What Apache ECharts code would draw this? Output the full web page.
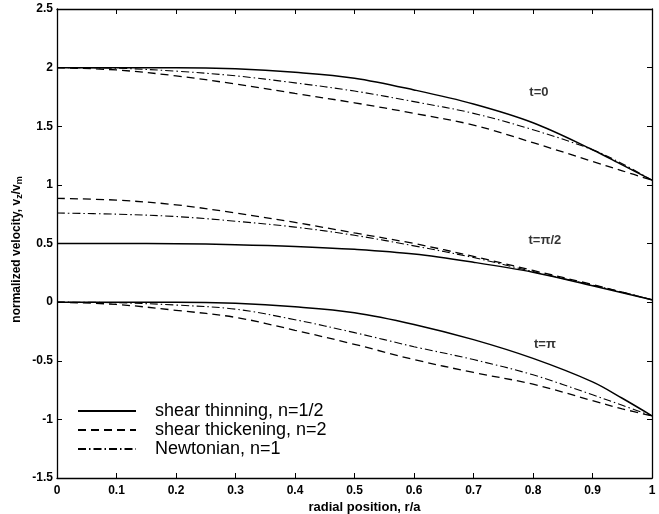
<!DOCTYPE html>
<html>
<head>
<meta charset="utf-8">
<script src="https://cdn.jsdelivr.net/npm/echarts@6/dist/echarts.min.js"></script>
<style>
html,body{margin:0;padding:0;background:#fff;}
#chart{width:659px;height:514px;}
</style>
</head>
<body>
<div id="chart"></div>
<script>
// radial positions r/a
var radialPos = [0, 0.1, 0.2, 0.3, 0.4, 0.5, 0.6, 0.7, 0.8, 0.9, 0.95, 1.0];

// t = 0
var thin_t0  = [2.0, 2.0, 2.0, 1.99, 1.96, 1.91, 1.81, 1.69, 1.53, 1.30, 1.17, 1.04];
var thick_t0 = [2.0, 1.98, 1.93, 1.86, 1.78, 1.70, 1.61, 1.51, 1.36, 1.20, 1.12, 1.04];
var newt_t0  = [2.0, 1.995, 1.97, 1.93, 1.87, 1.80, 1.71, 1.61, 1.47, 1.30, 1.18, 1.04];

// t = pi/2
var thin_t1  = [0.5, 0.5, 0.498, 0.49, 0.475, 0.45, 0.41, 0.34, 0.255, 0.14, 0.08, 0.02];
var thick_t1 = [0.885, 0.87, 0.83, 0.76, 0.68, 0.59, 0.50, 0.39, 0.27, 0.15, 0.085, 0.02];
var newt_t1  = [0.76, 0.75, 0.73, 0.69, 0.64, 0.57, 0.48, 0.38, 0.26, 0.145, 0.085, 0.02];

// t = pi
var thin_t2  = [0, 0, 0, -0.01, -0.04, -0.09, -0.19, -0.32, -0.48, -0.68, -0.82, -0.97];
var thick_t2 = [0, -0.02, -0.07, -0.13, -0.24, -0.36, -0.49, -0.60, -0.70, -0.84, -0.91, -0.97];
var newt_t2  = [0, -0.005, -0.025, -0.06, -0.15, -0.26, -0.38, -0.49, -0.62, -0.79, -0.88, -0.97];

var seriesNames = ['shear thinning, n=1/2', 'shear thickening, n=2', 'Newtonian, n=1'];

// curve labels and their positions (r, v)
var curveLabels = ['t=0', 't=\u03c0/2', 't=\u03c0'];
var curveLabelR = [0.81, 0.82, 0.82];
var curveLabelV = [1.79, 0.53, -0.36];

function pairs(ys) {
  return radialPos.map(function (r, i) { return [r, ys[i]]; });
}

var FONT = 'Liberation Sans';
var styles = [
  { type: 'solid', width: 1.5 },
  { type: [8, 5], width: 1.3 },
  { type: [8, 3, 1.5, 3], width: 1.1 }
];
var groups = [
  [thin_t0, thin_t1, thin_t2],
  [thick_t0, thick_t1, thick_t2],
  [newt_t0, newt_t1, newt_t2]
];

var series = [];
groups.forEach(function (g, k) {
  g.forEach(function (ys) {
    series.push({
      name: seriesNames[k],
      type: 'line',
      data: pairs(ys),
      smooth: 0.35,
      symbol: 'none',
      silent: true,
      lineStyle: { color: '#000', type: styles[k].type, width: styles[k].width },
      itemStyle: { color: '#000' },
      z: 3
    });
  });
});

series.push({
  name: 'labels',
  type: 'scatter',
  symbolSize: 0,
  silent: true,
  data: curveLabels.map(function (t, i) { return { name: t, value: [curveLabelR[i], curveLabelV[i]] }; }),
  label: {
    show: true,
    position: 'inside',
    formatter: '{b}',
    color: '#000',
    fontFamily: FONT,
    fontSize: 13,
    fontWeight: 'bold'
  }
});

var tickLabelStyle = {
  color: '#000',
  fontFamily: FONT,
  fontSize: 12,
  fontWeight: 'bold'
};

var chart = echarts.init(document.getElementById('chart'), null, { renderer: 'canvas' });
chart.setOption({
  backgroundColor: '#fff',
  animation: false,
  grid: { left: 57, right: 7, top: 9, bottom: 36, containLabel: false, outerBoundsMode: 'none' },
  legend: {
    data: seriesNames,
    orient: 'vertical',
    left: 72,
    top: 397,
    itemWidth: 58,
    itemHeight: 14,
    itemGap: 1,
    selectedMode: false,
    itemStyle: { opacity: 0 },
    textStyle: { fontFamily: FONT, fontSize: 18, color: '#000', padding: [0, 0, 0, 14] }
  },
  xAxis: [{
    type: 'value',
    min: 0, max: 1, interval: 0.1,
    position: 'bottom',
    name: 'radial position, r/a',
    nameLocation: 'middle',
    nameGap: 23,
    nameMoveOverlap: false,
    nameTextStyle: { color: '#000', fontFamily: FONT, fontSize: 13, fontWeight: 'bold', padding: [0, 0, 0, 20] },
    axisLine: { show: true, onZero: false, lineStyle: { color: '#000', width: 1.3 } },
    axisTick: { show: true, inside: true, length: 5, lineStyle: { color: '#000' } },
    axisLabel: Object.assign({ margin: 7, formatter: function (v) { return String(Math.round(v * 10) / 10); } }, tickLabelStyle),
    splitLine: { show: false }
  }, {
    type: 'value',
    min: 0, max: 1, interval: 0.1,
    position: 'top',
    axisLine: { show: true, onZero: false, lineStyle: { color: '#000', width: 1.3 } },
    axisTick: { show: true, inside: true, length: 5, lineStyle: { color: '#000' } },
    axisLabel: { show: false },
    splitLine: { show: false }
  }],
  yAxis: [{
    type: 'value',
    min: -1.5, max: 2.5, interval: 0.5,
    position: 'left',
    name: 'normalized velocity, v{sub|z}/v{sub|m}',
    nameLocation: 'middle',
    nameGap: 33,
    nameMoveOverlap: false,
    nameRotate: 90,
    nameTextStyle: {
      color: '#000', fontFamily: FONT, fontSize: 12, fontWeight: 'bold', padding: [0, 12, 0, 0],
      rich: { sub: { fontSize: 9, fontFamily: FONT, fontWeight: 'bold', color: '#000', verticalAlign: 'bottom', padding: [6, 0, 0, 0] } }
    },
    axisLine: { show: true, onZero: false, lineStyle: { color: '#000', width: 1.3 } },
    axisTick: { show: true, inside: true, length: 5, lineStyle: { color: '#000' } },
    axisLabel: Object.assign({ margin: 4, formatter: function (v) { return String(Math.round(v * 10) / 10); } }, tickLabelStyle),
    splitLine: { show: false }
  }, {
    type: 'value',
    min: -1.5, max: 2.5, interval: 0.5,
    position: 'right',
    axisLine: { show: true, onZero: false, lineStyle: { color: '#000', width: 1.3 } },
    axisTick: { show: true, inside: true, length: 5, lineStyle: { color: '#000' } },
    axisLabel: { show: false },
    splitLine: { show: false }
  }],
  series: series
});
</script>
</body>
</html>
